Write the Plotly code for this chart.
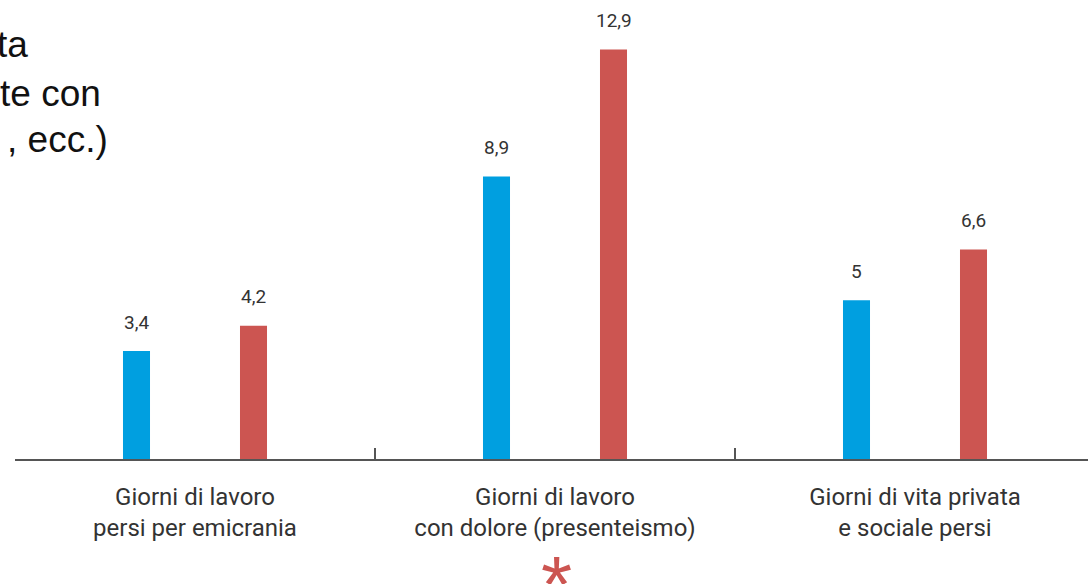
import plotly.graph_objects as go

categories = ["Giorni di lavoro<br>persi per emicrania",
              "Giorni di lavoro<br>con dolore (presenteismo)",
              "Giorni di vita privata<br>e sociale persi"]
series_a = [3.4, 8.9, 5.0]
series_b = [4.2, 12.9, 6.6]
labels_a = ["3,4", "8,9", "5"]
labels_b = ["4,2", "12,9", "6,6"]
fragments = ["ta", "te con", ", ecc.)"]

BLUE = "#009FE0"
RED = "#CC5551"
LABEL_FONT = "Roboto, Arial, sans-serif"

OFF = 0  # body margin removed via post_script
W, H = 1088 - OFF, 584 - OFF
ML, MR, MT = 15 - OFF, 0, 10 - OFF
MB = H - (459 - OFF)
pw = W - ML - MR
ph = H - MT - MB
PX_PER_UNIT = 31.75


def px_x(p):
    return (p - OFF - ML) / pw


def px_y(p):
    return (H - MB - (p - OFF)) / ph


fig = go.Figure()
fig.add_trace(go.Bar(x=categories, y=series_a, marker=dict(color=BLUE, line=dict(width=0)), name="A"))
fig.add_trace(go.Bar(x=categories, y=series_b, marker=dict(color=RED, line=dict(width=0)), name="B"))

slot_px = 0.1625 * 360
for vals, labs, sh in ((series_a, labels_a, -slot_px), (series_b, labels_b, slot_px)):
    for c, v, t in zip(categories, vals, labs):
        fig.add_annotation(x=c, y=v, text=t, showarrow=False, xshift=sh, yshift=29,
                           yanchor="middle", font=dict(family=LABEL_FONT, size=19, color="#333333"))

# clipped slide text at top left
rights = [30, 103, 110]
ys = [45, 93, 140]
for t, rx, yy in zip(fragments, rights, ys):
    fig.add_annotation(xref="paper", yref="paper", x=px_x(rx), y=px_y(yy),
                       text=t, showarrow=False, xanchor="right", yanchor="middle",
                       font=dict(family="Liberation Sans, Arial, sans-serif", size=37, color="#111111"))

# red asterisk under middle category
fig.add_annotation(x=categories[1], yref="paper", y=px_y(538), text="*",
                   showarrow=False, yanchor="top", xshift=1,
                   font=dict(family="Liberation Sans, Arial", size=80, color=RED))

fig.update_layout(
    width=W, height=H, margin=dict(l=ML, r=MR, t=MT, b=MB),
    paper_bgcolor="white", plot_bgcolor="white", showlegend=False,
    barmode="group", bargap=0.35, bargroupgap=0.769,
    xaxis=dict(type="category", range=[-0.5, -0.5 + pw / 360], showgrid=False,
               showline=True, linecolor="#555555", linewidth=2,
               ticks="inside", tickson="boundaries", ticklen=11, tickcolor="#555555", tickwidth=1.5,
               tickfont=dict(family=LABEL_FONT, size=24, color="#333333"), ticklabelstandoff=15),
    yaxis=dict(range=[0, ph / PX_PER_UNIT], visible=False, showgrid=False, zeroline=False),
)

fig.write_html("out.html", config={"displayModeBar": False},
               post_script="document.body.style.margin='0';document.body.style.overflow='hidden';")
